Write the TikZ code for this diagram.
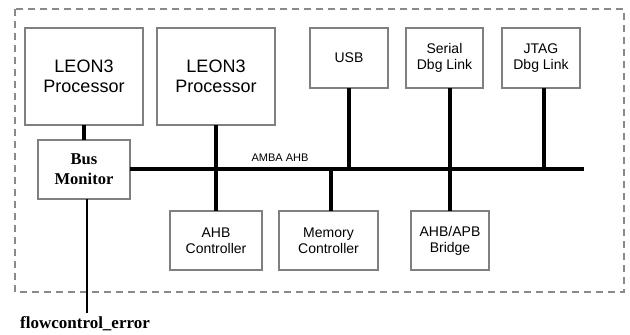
\documentclass[tikz,border=0pt]{standalone}
\usepackage{fontspec}
\setmainfont{Liberation Sans}
\newfontfamily\serifbf{Liberation Serif}
\definecolor{boxgray}{HTML}{808080}
\definecolor{dashgray}{HTML}{8A8A8A}
\begin{document}
\begin{tikzpicture}[x=1pt,y=-1pt,
  blk/.style={draw=boxgray, line width=1.6pt, fill=white, inner sep=0pt, outer sep=0pt, align=center},
  bigtxt/.style={font=\fontsize{18}{20.5}\selectfont},
  smalltxt/.style={font=\fontsize{14}{16}\selectfont},
  montxt/.style={font=\fontsize{16.5}{20}\selectfont\serifbf\bfseries},
  busline/.style={line width=4.5pt, black},
  sigline/.style={line width=1.8pt, black}]
\useasboundingbox (0,0) rectangle (630,335);
\draw[dashgray, line width=1.5pt, dash pattern=on 7pt off 5pt] (15,9) rectangle (624,292);
% top boxes
\node[blk, bigtxt, minimum width=118, minimum height=97] (leon1) at (84,76.5) {LEON3\\Processor};
\node[blk, bigtxt, minimum width=118, minimum height=97] (leon2) at (216,76.5) {LEON3\\Processor};
\node[blk, smalltxt, minimum width=78, minimum height=60] (usb) at (349,58) {USB};
\node[blk, smalltxt, minimum width=77, minimum height=60] (serial) at (444.5,58) {Serial\\Dbg Link};
\node[blk, smalltxt, minimum width=78, minimum height=60] (jtag) at (541,58) {JTAG\\Dbg Link};
% bus monitor
\node[blk, montxt, minimum width=92, minimum height=59] (mon) at (84,169.5) {Bus\\Monitor};
% bottom boxes
\node[blk, smalltxt, minimum width=92, minimum height=59] (ahbc) at (216,240.5) {AHB\\Controller};
\node[blk, smalltxt, minimum width=99, minimum height=59] (memc) at (328.5,240.5) {Memory\\Controller};
\node[blk, smalltxt, minimum width=78, minimum height=59] (bridge) at (450,240.5) {AHB/APB\\Bridge};
% bus
\coordinate (busR) at (584,169);
\draw[busline] (mon.east |- busR) -- (busR);
\node[font=\fontsize{11}{12}\selectfont] (amba) at (280,158) {AMBA AHB};
% connectors
\draw[busline] (leon1.south) -- (mon.north);
\draw[busline] (leon2.south) -- (ahbc.north);
\draw[busline] (usb.south) -- (usb.south |- busR);
\draw[busline] (bridge.north |- serial.south) -- (bridge.north);
\draw[busline] ([xshift=3pt]jtag.south) -- ([xshift=3pt]jtag.south |- busR);
\draw[busline] ([xshift=2.5pt]memc.north) -- ([xshift=2.5pt]memc.north |- busR);
% flowcontrol
\node[font=\fontsize{17}{20}\selectfont\serifbf\bfseries, anchor=base west, inner sep=0pt] (flow) at (20,328) {flowcontrol\_error};
\coordinate (flowtop) at (87,313);
\draw[sigline] ([xshift=3pt]mon.south) -- (flowtop);
\end{tikzpicture}
\end{document}
